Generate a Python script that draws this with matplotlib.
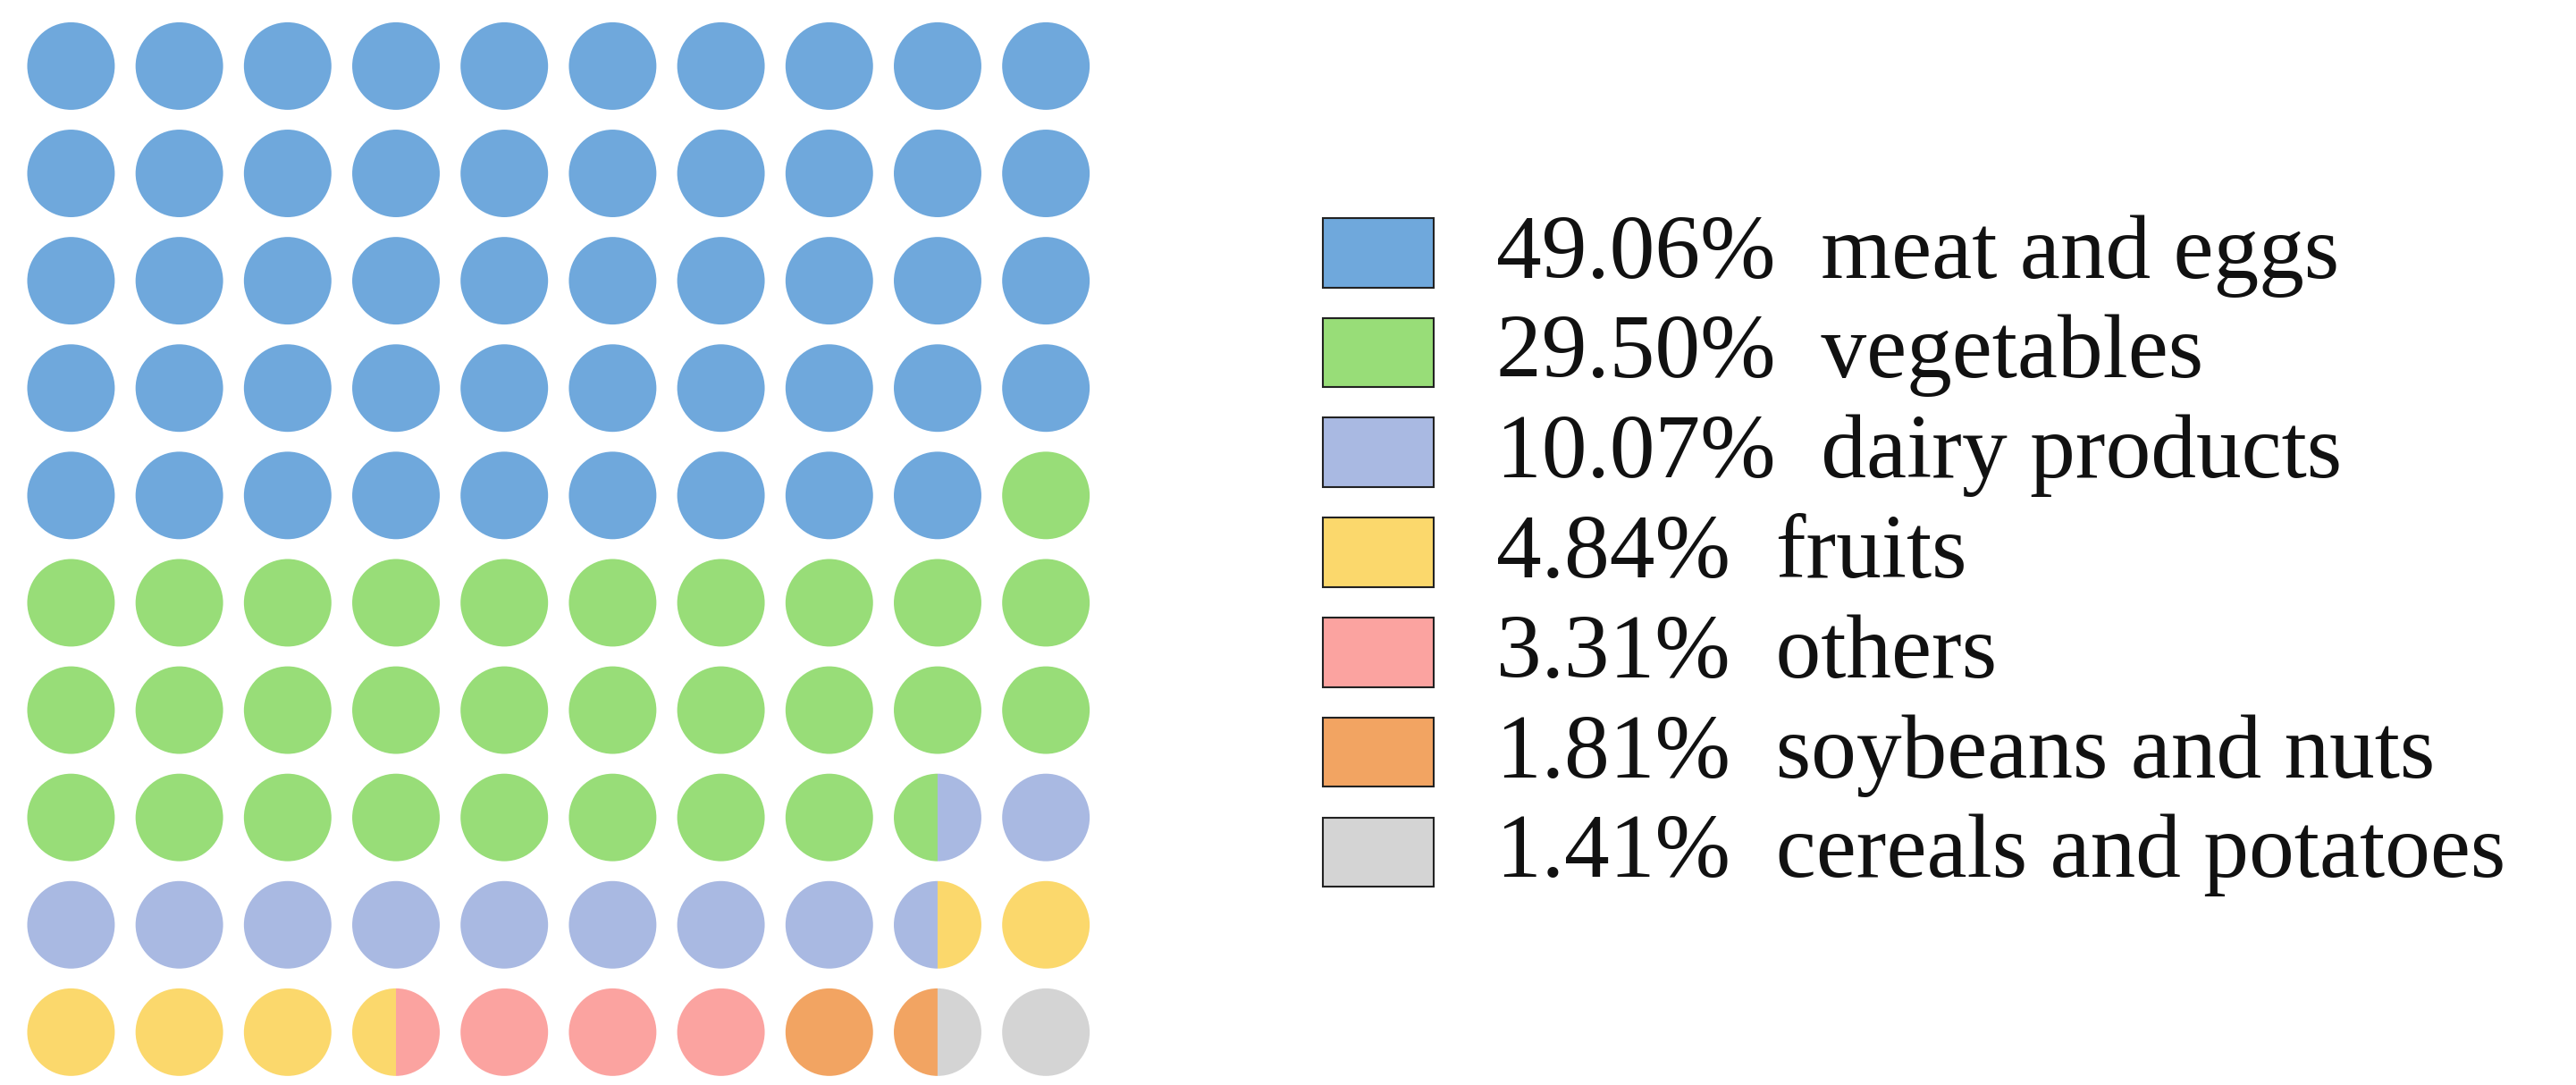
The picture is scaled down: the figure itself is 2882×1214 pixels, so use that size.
import matplotlib
matplotlib.use("Agg")
import matplotlib.pyplot as plt
from matplotlib.patches import Wedge, Circle, Rectangle

categories = ["meat and eggs", "vegetables", "dairy products", "fruits", "others",
              "soybeans and nuts", "cereals and potatoes"]
percent_labels = ["49.06%", "29.50%", "10.07%", "4.84%", "3.31%", "1.81%", "1.41%"]
cells = [49, 29.5, 10, 5, 3.5, 1.5, 1.5]  # number of circles (halves allowed)
colors = ["#6FA8DC", "#98DD78", "#A9B9E2", "#FBD86C", "#FBA3A0", "#F2A462", "#D4D4D4"]

fig = plt.figure(figsize=(28.82, 12.14), dpi=100)
ax = fig.add_axes([0, 0, 1, 1])
ax.set_xlim(0, 1560)
ax.set_ylim(657, 0)
ax.axis("off")

x0, y0, dx, dy, r = 43, 40, 65.6, 65, 26.5
halves = []
for c, n in zip(colors, cells):
    halves += [c] * int(round(n * 2))
for i in range(100):
    row, col = divmod(i, 10)
    cx, cy = x0 + col * dx, y0 + row * dy
    left, right = halves[2 * i], halves[2 * i + 1]
    if left == right:
        ax.add_patch(Circle((cx, cy), r, color=left, lw=0))
    else:
        ax.add_patch(Wedge((cx, cy), r, 90, 270, color=left, lw=0))
        ax.add_patch(Wedge((cx, cy), r, 270, 90, color=right, lw=0))

ly0, lsp = 153, 60.5
for k, (c, p, name) in enumerate(zip(colors, percent_labels, categories)):
    y = ly0 + k * lsp
    ax.add_patch(Rectangle((801, y - 21), 67, 42, facecolor=c, edgecolor="#222222", lw=1.5))
    ax.text(906, y + 2, f"{p}  {name}", fontsize=73, family="Liberation Serif",
            va="center", ha="left", color="#111111")

fig.savefig("out.png", dpi=100)
